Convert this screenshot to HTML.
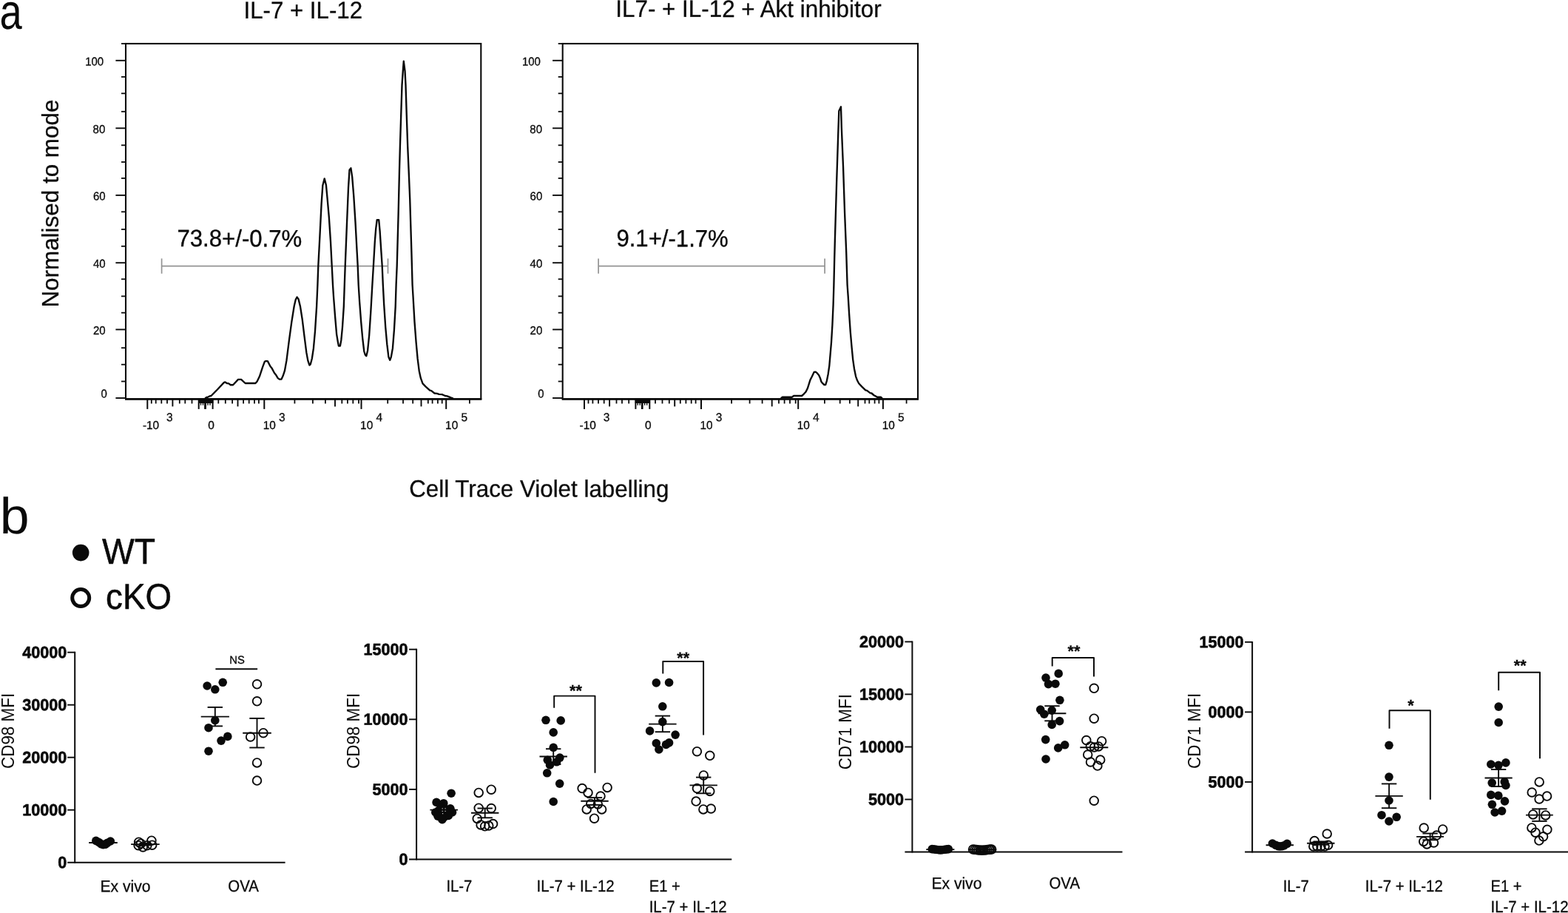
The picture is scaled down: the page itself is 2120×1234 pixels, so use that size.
<!DOCTYPE html>
<html lang="en"><head><meta charset="utf-8"><title>Figure</title>
<style>html,body{margin:0;padding:0;background:#fff}body{width:2120px;height:1234px;overflow:hidden}svg{display:block;filter:blur(0.45px)}text{font-family:'Liberation Sans', sans-serif}</style>
</head><body>
<svg width="2120" height="1234" viewBox="0 0 2120 1234" role="img" aria-label="Figure: Cell Trace Violet histograms and CD98/CD71 MFI dot plots">
<rect width="2120" height="1234" fill="#fff"/>
<g fill="#0a0a0a">
<text transform="translate(-0.40 38.80) rotate(0.03)" font-size="67.5" textLength="30.2" lengthAdjust="spacingAndGlyphs">a</text>
<text transform="translate(-0.20 721.00) rotate(0.03)" font-size="68.5" textLength="39.8" lengthAdjust="spacingAndGlyphs">b</text>
<text transform="translate(79.00 415.60) rotate(-90) scale(1 1.04)" font-size="31" textLength="281.0" lengthAdjust="spacingAndGlyphs" stroke="#0a0a0a" stroke-width="0.3">Normalised to mode</text>
<g class="hist">
<rect x="170.0" y="59.0" width="480.3" height="480.2" fill="none" stroke="#0a0a0a" stroke-width="2.1"/>
<line x1="164.0" y1="59.0" x2="170.0" y2="59.0" stroke-width="1.8" stroke="#0a0a0a"/>
<line x1="169.0" y1="539.5" x2="651.3" y2="539.5" stroke-width="2.3" stroke="#0a0a0a"/>
<line x1="156.4" y1="81.8" x2="170.0" y2="81.8" stroke-width="1.9" stroke="#0a0a0a"/>
<line x1="164.0" y1="103.9" x2="170.0" y2="103.9" stroke-width="1.8" stroke="#0a0a0a"/>
<line x1="164.0" y1="126.3" x2="170.0" y2="126.3" stroke-width="1.8" stroke="#0a0a0a"/>
<line x1="164.0" y1="150.8" x2="170.0" y2="150.8" stroke-width="1.8" stroke="#0a0a0a"/>
<line x1="156.4" y1="173.3" x2="170.0" y2="173.3" stroke-width="1.9" stroke="#0a0a0a"/>
<line x1="164.0" y1="196.3" x2="170.0" y2="196.3" stroke-width="1.8" stroke="#0a0a0a"/>
<line x1="164.0" y1="219.0" x2="170.0" y2="219.0" stroke-width="1.8" stroke="#0a0a0a"/>
<line x1="164.0" y1="240.9" x2="170.0" y2="240.9" stroke-width="1.8" stroke="#0a0a0a"/>
<line x1="156.4" y1="263.9" x2="170.0" y2="263.9" stroke-width="1.9" stroke="#0a0a0a"/>
<line x1="164.0" y1="286.3" x2="170.0" y2="286.3" stroke-width="1.8" stroke="#0a0a0a"/>
<line x1="164.0" y1="310.0" x2="170.0" y2="310.0" stroke-width="1.8" stroke="#0a0a0a"/>
<line x1="164.0" y1="332.8" x2="170.0" y2="332.8" stroke-width="1.8" stroke="#0a0a0a"/>
<line x1="156.4" y1="355.2" x2="170.0" y2="355.2" stroke-width="1.9" stroke="#0a0a0a"/>
<line x1="164.0" y1="377.3" x2="170.0" y2="377.3" stroke-width="1.8" stroke="#0a0a0a"/>
<line x1="164.0" y1="400.4" x2="170.0" y2="400.4" stroke-width="1.8" stroke="#0a0a0a"/>
<line x1="164.0" y1="422.7" x2="170.0" y2="422.7" stroke-width="1.8" stroke="#0a0a0a"/>
<line x1="156.4" y1="445.4" x2="170.0" y2="445.4" stroke-width="1.9" stroke="#0a0a0a"/>
<line x1="164.0" y1="470.2" x2="170.0" y2="470.2" stroke-width="1.8" stroke="#0a0a0a"/>
<line x1="164.0" y1="492.7" x2="170.0" y2="492.7" stroke-width="1.8" stroke="#0a0a0a"/>
<line x1="164.0" y1="515.5" x2="170.0" y2="515.5" stroke-width="1.8" stroke="#0a0a0a"/>
<line x1="156.4" y1="538.0" x2="170.0" y2="538.0" stroke-width="1.9" stroke="#0a0a0a"/>
<text transform="translate(140.20 88.40) rotate(0.03) scale(1 1.03)" font-size="15.3" text-anchor="end" textLength="25.0" lengthAdjust="spacingAndGlyphs" stroke="#0a0a0a" stroke-width="0.3">100</text>
<text transform="translate(142.30 179.90) rotate(0.03) scale(1 1.03)" font-size="15.3" text-anchor="end" textLength="16.7" lengthAdjust="spacingAndGlyphs" stroke="#0a0a0a" stroke-width="0.3">80</text>
<text transform="translate(142.60 270.50) rotate(0.03) scale(1 1.03)" font-size="15.3" text-anchor="end" textLength="16.7" lengthAdjust="spacingAndGlyphs" stroke="#0a0a0a" stroke-width="0.3">60</text>
<text transform="translate(142.60 361.80) rotate(0.03) scale(1 1.03)" font-size="15.3" text-anchor="end" textLength="16.7" lengthAdjust="spacingAndGlyphs" stroke="#0a0a0a" stroke-width="0.3">40</text>
<text transform="translate(142.60 452.00) rotate(0.03) scale(1 1.03)" font-size="15.3" text-anchor="end" textLength="16.7" lengthAdjust="spacingAndGlyphs" stroke="#0a0a0a" stroke-width="0.3">20</text>
<text transform="translate(144.90 537.60) rotate(0.03) scale(1 1.03)" font-size="15.3" text-anchor="end" textLength="8.3" lengthAdjust="spacingAndGlyphs" stroke="#0a0a0a" stroke-width="0.3">0</text>
<line x1="199.3" y1="539.2" x2="199.3" y2="552.9" stroke-width="2.0" stroke="#0a0a0a"/>
<line x1="268.7" y1="539.2" x2="268.7" y2="552.9" stroke-width="2.0" stroke="#0a0a0a"/>
<line x1="277.5" y1="539.2" x2="277.5" y2="552.9" stroke-width="2.0" stroke="#0a0a0a"/>
<line x1="287.6" y1="539.2" x2="287.6" y2="552.9" stroke-width="2.0" stroke="#0a0a0a"/>
<line x1="357.3" y1="539.2" x2="357.3" y2="552.9" stroke-width="2.0" stroke="#0a0a0a"/>
<line x1="488.5" y1="539.2" x2="488.5" y2="552.9" stroke-width="2.0" stroke="#0a0a0a"/>
<line x1="603.2" y1="539.2" x2="603.2" y2="552.9" stroke-width="2.0" stroke="#0a0a0a"/>
<line x1="233.4" y1="539.2" x2="233.4" y2="549.4" stroke-width="1.9" stroke="#0a0a0a"/>
<line x1="321.5" y1="539.2" x2="321.5" y2="549.4" stroke-width="1.9" stroke="#0a0a0a"/>
<line x1="453.0" y1="539.2" x2="453.0" y2="549.4" stroke-width="1.9" stroke="#0a0a0a"/>
<line x1="569.5" y1="539.2" x2="569.5" y2="549.4" stroke-width="1.9" stroke="#0a0a0a"/>
<line x1="204.8" y1="539.2" x2="204.8" y2="545.5" stroke-width="1.8" stroke="#0a0a0a"/>
<line x1="210.7" y1="539.2" x2="210.7" y2="545.5" stroke-width="1.8" stroke="#0a0a0a"/>
<line x1="218.3" y1="539.2" x2="218.3" y2="545.5" stroke-width="1.8" stroke="#0a0a0a"/>
<line x1="226.0" y1="539.2" x2="226.0" y2="545.5" stroke-width="1.8" stroke="#0a0a0a"/>
<line x1="242.8" y1="539.2" x2="242.8" y2="545.5" stroke-width="1.8" stroke="#0a0a0a"/>
<line x1="250.3" y1="539.2" x2="250.3" y2="545.5" stroke-width="1.8" stroke="#0a0a0a"/>
<line x1="259.5" y1="539.2" x2="259.5" y2="545.5" stroke-width="1.8" stroke="#0a0a0a"/>
<line x1="295.3" y1="539.2" x2="295.3" y2="545.5" stroke-width="1.8" stroke="#0a0a0a"/>
<line x1="304.8" y1="539.2" x2="304.8" y2="545.5" stroke-width="1.8" stroke="#0a0a0a"/>
<line x1="314.1" y1="539.2" x2="314.1" y2="545.5" stroke-width="1.8" stroke="#0a0a0a"/>
<line x1="329.1" y1="539.2" x2="329.1" y2="545.5" stroke-width="1.8" stroke="#0a0a0a"/>
<line x1="336.7" y1="539.2" x2="336.7" y2="545.5" stroke-width="1.8" stroke="#0a0a0a"/>
<line x1="344.0" y1="539.2" x2="344.0" y2="545.5" stroke-width="1.8" stroke="#0a0a0a"/>
<line x1="349.9" y1="539.2" x2="349.9" y2="545.5" stroke-width="1.8" stroke="#0a0a0a"/>
<line x1="398.4" y1="539.2" x2="398.4" y2="545.5" stroke-width="1.8" stroke="#0a0a0a"/>
<line x1="422.9" y1="539.2" x2="422.9" y2="545.5" stroke-width="1.8" stroke="#0a0a0a"/>
<line x1="439.9" y1="539.2" x2="439.9" y2="545.5" stroke-width="1.8" stroke="#0a0a0a"/>
<line x1="462.3" y1="539.2" x2="462.3" y2="545.5" stroke-width="1.8" stroke="#0a0a0a"/>
<line x1="469.9" y1="539.2" x2="469.9" y2="545.5" stroke-width="1.8" stroke="#0a0a0a"/>
<line x1="477.3" y1="539.2" x2="477.3" y2="545.5" stroke-width="1.8" stroke="#0a0a0a"/>
<line x1="485.0" y1="539.2" x2="485.0" y2="545.5" stroke-width="1.8" stroke="#0a0a0a"/>
<line x1="524.2" y1="539.2" x2="524.2" y2="545.5" stroke-width="1.8" stroke="#0a0a0a"/>
<line x1="545.0" y1="539.2" x2="545.0" y2="545.5" stroke-width="1.8" stroke="#0a0a0a"/>
<line x1="558.2" y1="539.2" x2="558.2" y2="545.5" stroke-width="1.8" stroke="#0a0a0a"/>
<line x1="578.8" y1="539.2" x2="578.8" y2="545.5" stroke-width="1.8" stroke="#0a0a0a"/>
<line x1="584.6" y1="539.2" x2="584.6" y2="545.5" stroke-width="1.8" stroke="#0a0a0a"/>
<line x1="591.9" y1="539.2" x2="591.9" y2="545.5" stroke-width="1.8" stroke="#0a0a0a"/>
<line x1="597.7" y1="539.2" x2="597.7" y2="545.5" stroke-width="1.8" stroke="#0a0a0a"/>
<line x1="634.9" y1="539.2" x2="634.9" y2="545.5" stroke-width="1.8" stroke="#0a0a0a"/>
<rect x="268.0" y="539.2" width="20.4" height="5.8" fill="#0a0a0a"/>
<line x1="271.5" y1="539.2" x2="271.5" y2="547.7" stroke-width="1.4" stroke="#0a0a0a"/>
<line x1="274.5" y1="539.2" x2="274.5" y2="547.7" stroke-width="1.4" stroke="#0a0a0a"/>
<line x1="281.0" y1="539.2" x2="281.0" y2="547.7" stroke-width="1.4" stroke="#0a0a0a"/>
<line x1="284.0" y1="539.2" x2="284.0" y2="547.7" stroke-width="1.4" stroke="#0a0a0a"/>
<line x1="277.5" y1="539.2" x2="277.5" y2="552.9" stroke-width="2.6" stroke="#0a0a0a"/>
<text transform="translate(192.90 580.10) rotate(0.03) scale(1 1.03)" font-size="15.3" textLength="22.3" lengthAdjust="spacingAndGlyphs" stroke="#0a0a0a" stroke-width="0.3">-10</text>
<text transform="translate(225.00 569.20) rotate(0.03) scale(1 1.03)" font-size="15.3" textLength="8.6" lengthAdjust="spacingAndGlyphs" stroke="#0a0a0a" stroke-width="0.3">3</text>
<text transform="translate(281.20 580.10) rotate(0.03) scale(1 1.03)" font-size="15.3" textLength="8.6" lengthAdjust="spacingAndGlyphs" stroke="#0a0a0a" stroke-width="0.3">0</text>
<text transform="translate(355.80 580.10) rotate(0.03) scale(1 1.03)" font-size="15.3" textLength="17.1" lengthAdjust="spacingAndGlyphs" stroke="#0a0a0a" stroke-width="0.3">10</text>
<text transform="translate(377.10 569.20) rotate(0.03) scale(1 1.03)" font-size="15.3" textLength="8.6" lengthAdjust="spacingAndGlyphs" stroke="#0a0a0a" stroke-width="0.3">3</text>
<text transform="translate(487.10 580.10) rotate(0.03) scale(1 1.03)" font-size="15.3" textLength="17.1" lengthAdjust="spacingAndGlyphs" stroke="#0a0a0a" stroke-width="0.3">10</text>
<text transform="translate(508.40 569.20) rotate(0.03) scale(1 1.03)" font-size="15.3" textLength="8.6" lengthAdjust="spacingAndGlyphs" stroke="#0a0a0a" stroke-width="0.3">4</text>
<text transform="translate(602.10 580.10) rotate(0.03) scale(1 1.03)" font-size="15.3" textLength="17.1" lengthAdjust="spacingAndGlyphs" stroke="#0a0a0a" stroke-width="0.3">10</text>
<text transform="translate(623.40 569.20) rotate(0.03) scale(1 1.03)" font-size="15.3" textLength="8.6" lengthAdjust="spacingAndGlyphs" stroke="#0a0a0a" stroke-width="0.3">5</text>
<line x1="218.6" y1="359.6" x2="524.5" y2="359.6" stroke-width="1.7" stroke="#939393"/>
<line x1="218.6" y1="349.4" x2="218.6" y2="369.8" stroke-width="1.7" stroke="#939393"/>
<line x1="524.5" y1="349.4" x2="524.5" y2="369.8" stroke-width="1.7" stroke="#939393"/>
<path d="M277.2,538.4 L279.3,537.0 L281.3,536.6 L283.4,535.4 L285.5,535.0 L294.4,526.0 L302.7,517.1 L304.4,516.4 L306.8,518.0 L309.3,518.4 L311.7,520.2 L315.1,520.2 L322.0,512.9 L326.1,512.9 L331.6,518.0 L345.4,518.0 L347.5,515.7 L350.9,508.8 L355.0,496.4 L357.8,488.8 L359.4,487.9 L361.9,488.1 L365.4,495.0 L367.4,497.4 L370.9,504.0 L372.9,506.4 L375.7,511.1 L377.8,512.6 L380.5,512.6 L382.6,508.1 L384.9,501.2 L387.4,487.4 L390.9,459.9 L394.3,435.1 L397.7,413.7 L399.8,404.8 L401.6,401.6 L403.5,404.1 L406.0,414.4 L408.8,432.3 L411.5,454.4 L414.3,476.4 L416.3,487.4 L418.4,493.6 L419.8,492.3 L421.8,484.7 L423.9,470.9 L426.0,447.5 L428.1,414.4 L429.4,385.0 L430.3,359.5 L432.4,319.4 L434.6,275.6 L436.3,250.8 L438.7,241.4 L440.9,250.1 L442.6,268.3 L444.8,293.1 L447.0,326.7 L448.7,359.5 L450.0,385.0 L451.0,400.7 L453.1,428.2 L455.1,451.6 L456.9,462.6 L457.9,467.5 L459.9,467.5 L461.3,459.9 L463.0,442.0 L464.8,414.4 L465.8,385.0 L466.7,359.5 L468.9,304.8 L471.0,253.8 L472.5,229.7 L474.4,227.2 L476.2,239.2 L478.3,265.4 L480.5,300.4 L482.7,341.3 L483.7,359.5 L484.7,385.0 L486.1,407.5 L488.2,435.1 L490.2,457.1 L492.3,475.0 L493.7,479.4 L495.3,481.2 L497.1,473.7 L499.2,453.0 L501.3,421.3 L503.2,388.0 L504.9,359.5 L506.8,326.7 L508.2,309.2 L509.7,297.2 L512.2,297.2 L513.6,312.1 L515.5,341.3 L516.7,359.5 L517.8,385.0 L519.2,411.7 L521.2,442.0 L523.3,465.4 L525.4,482.6 L527.2,486.7 L528.8,482.6 L530.9,470.9 L532.9,446.1 L534.7,414.4 L535.6,385.0 L536.7,359.5 L538.6,290.0 L540.0,230.0 L540.9,197.7 L542.2,156.4 L543.5,115.1 L544.8,95.8 L545.8,82.7 L547.5,95.8 L548.5,115.1 L549.8,156.4 L551.2,197.7 L552.6,230.0 L554.2,268.3 L556.4,341.3 L557.6,385.0 L558.6,402.0 L560.5,435.1 L562.6,462.6 L564.6,484.7 L566.7,501.2 L568.8,510.9 L571.5,518.4 L575.6,522.6 L581.2,527.7 L583.2,528.1 L587.4,531.5 L590.8,531.8 L593.6,532.9 L597.7,533.2 L601.8,535.0 L604.6,535.4 L610.1,537.7 L612.8,538.7" fill="none" stroke-width="2.35" stroke-linejoin="round" stroke="#0a0a0a"/>
<text transform="translate(239.40 333.10) rotate(0.03) scale(1 1.04)" font-size="31" textLength="168.9" lengthAdjust="spacingAndGlyphs" stroke="#0a0a0a" stroke-width="0.35">73.8+/-0.7%</text>
<text transform="translate(329.50 24.80) rotate(0.03) scale(1 1.04)" font-size="31" textLength="160.5" lengthAdjust="spacingAndGlyphs" stroke="#0a0a0a" stroke-width="0.3">IL-7 + IL-12</text>
</g>
<g class="hist">
<rect x="760.7" y="59.0" width="480.3" height="480.2" fill="none" stroke="#0a0a0a" stroke-width="2.1"/>
<line x1="754.7" y1="59.0" x2="760.7" y2="59.0" stroke-width="1.8" stroke="#0a0a0a"/>
<line x1="759.7" y1="539.5" x2="1242.0" y2="539.5" stroke-width="2.3" stroke="#0a0a0a"/>
<line x1="747.1" y1="81.8" x2="760.7" y2="81.8" stroke-width="1.9" stroke="#0a0a0a"/>
<line x1="754.7" y1="103.9" x2="760.7" y2="103.9" stroke-width="1.8" stroke="#0a0a0a"/>
<line x1="754.7" y1="126.3" x2="760.7" y2="126.3" stroke-width="1.8" stroke="#0a0a0a"/>
<line x1="754.7" y1="150.8" x2="760.7" y2="150.8" stroke-width="1.8" stroke="#0a0a0a"/>
<line x1="747.1" y1="173.3" x2="760.7" y2="173.3" stroke-width="1.9" stroke="#0a0a0a"/>
<line x1="754.7" y1="196.3" x2="760.7" y2="196.3" stroke-width="1.8" stroke="#0a0a0a"/>
<line x1="754.7" y1="219.0" x2="760.7" y2="219.0" stroke-width="1.8" stroke="#0a0a0a"/>
<line x1="754.7" y1="240.9" x2="760.7" y2="240.9" stroke-width="1.8" stroke="#0a0a0a"/>
<line x1="747.1" y1="263.9" x2="760.7" y2="263.9" stroke-width="1.9" stroke="#0a0a0a"/>
<line x1="754.7" y1="286.3" x2="760.7" y2="286.3" stroke-width="1.8" stroke="#0a0a0a"/>
<line x1="754.7" y1="310.0" x2="760.7" y2="310.0" stroke-width="1.8" stroke="#0a0a0a"/>
<line x1="754.7" y1="332.8" x2="760.7" y2="332.8" stroke-width="1.8" stroke="#0a0a0a"/>
<line x1="747.1" y1="355.2" x2="760.7" y2="355.2" stroke-width="1.9" stroke="#0a0a0a"/>
<line x1="754.7" y1="377.3" x2="760.7" y2="377.3" stroke-width="1.8" stroke="#0a0a0a"/>
<line x1="754.7" y1="400.4" x2="760.7" y2="400.4" stroke-width="1.8" stroke="#0a0a0a"/>
<line x1="754.7" y1="422.7" x2="760.7" y2="422.7" stroke-width="1.8" stroke="#0a0a0a"/>
<line x1="747.1" y1="445.4" x2="760.7" y2="445.4" stroke-width="1.9" stroke="#0a0a0a"/>
<line x1="754.7" y1="470.2" x2="760.7" y2="470.2" stroke-width="1.8" stroke="#0a0a0a"/>
<line x1="754.7" y1="492.7" x2="760.7" y2="492.7" stroke-width="1.8" stroke="#0a0a0a"/>
<line x1="754.7" y1="515.5" x2="760.7" y2="515.5" stroke-width="1.8" stroke="#0a0a0a"/>
<line x1="747.1" y1="538.0" x2="760.7" y2="538.0" stroke-width="1.9" stroke="#0a0a0a"/>
<text transform="translate(730.90 88.40) rotate(0.03) scale(1 1.03)" font-size="15.3" text-anchor="end" textLength="25.0" lengthAdjust="spacingAndGlyphs" stroke="#0a0a0a" stroke-width="0.3">100</text>
<text transform="translate(733.00 179.90) rotate(0.03) scale(1 1.03)" font-size="15.3" text-anchor="end" textLength="16.7" lengthAdjust="spacingAndGlyphs" stroke="#0a0a0a" stroke-width="0.3">80</text>
<text transform="translate(733.30 270.50) rotate(0.03) scale(1 1.03)" font-size="15.3" text-anchor="end" textLength="16.7" lengthAdjust="spacingAndGlyphs" stroke="#0a0a0a" stroke-width="0.3">60</text>
<text transform="translate(733.30 361.80) rotate(0.03) scale(1 1.03)" font-size="15.3" text-anchor="end" textLength="16.7" lengthAdjust="spacingAndGlyphs" stroke="#0a0a0a" stroke-width="0.3">40</text>
<text transform="translate(733.30 452.00) rotate(0.03) scale(1 1.03)" font-size="15.3" text-anchor="end" textLength="16.7" lengthAdjust="spacingAndGlyphs" stroke="#0a0a0a" stroke-width="0.3">20</text>
<text transform="translate(735.60 537.60) rotate(0.03) scale(1 1.03)" font-size="15.3" text-anchor="end" textLength="8.3" lengthAdjust="spacingAndGlyphs" stroke="#0a0a0a" stroke-width="0.3">0</text>
<line x1="790.0" y1="539.2" x2="790.0" y2="552.9" stroke-width="2.0" stroke="#0a0a0a"/>
<line x1="859.4" y1="539.2" x2="859.4" y2="552.9" stroke-width="2.0" stroke="#0a0a0a"/>
<line x1="868.2" y1="539.2" x2="868.2" y2="552.9" stroke-width="2.0" stroke="#0a0a0a"/>
<line x1="878.3" y1="539.2" x2="878.3" y2="552.9" stroke-width="2.0" stroke="#0a0a0a"/>
<line x1="948.0" y1="539.2" x2="948.0" y2="552.9" stroke-width="2.0" stroke="#0a0a0a"/>
<line x1="1079.2" y1="539.2" x2="1079.2" y2="552.9" stroke-width="2.0" stroke="#0a0a0a"/>
<line x1="1193.9" y1="539.2" x2="1193.9" y2="552.9" stroke-width="2.0" stroke="#0a0a0a"/>
<line x1="824.1" y1="539.2" x2="824.1" y2="549.4" stroke-width="1.9" stroke="#0a0a0a"/>
<line x1="912.2" y1="539.2" x2="912.2" y2="549.4" stroke-width="1.9" stroke="#0a0a0a"/>
<line x1="1043.7" y1="539.2" x2="1043.7" y2="549.4" stroke-width="1.9" stroke="#0a0a0a"/>
<line x1="1160.2" y1="539.2" x2="1160.2" y2="549.4" stroke-width="1.9" stroke="#0a0a0a"/>
<line x1="795.5" y1="539.2" x2="795.5" y2="545.5" stroke-width="1.8" stroke="#0a0a0a"/>
<line x1="801.4" y1="539.2" x2="801.4" y2="545.5" stroke-width="1.8" stroke="#0a0a0a"/>
<line x1="809.0" y1="539.2" x2="809.0" y2="545.5" stroke-width="1.8" stroke="#0a0a0a"/>
<line x1="816.7" y1="539.2" x2="816.7" y2="545.5" stroke-width="1.8" stroke="#0a0a0a"/>
<line x1="833.5" y1="539.2" x2="833.5" y2="545.5" stroke-width="1.8" stroke="#0a0a0a"/>
<line x1="841.0" y1="539.2" x2="841.0" y2="545.5" stroke-width="1.8" stroke="#0a0a0a"/>
<line x1="850.2" y1="539.2" x2="850.2" y2="545.5" stroke-width="1.8" stroke="#0a0a0a"/>
<line x1="886.0" y1="539.2" x2="886.0" y2="545.5" stroke-width="1.8" stroke="#0a0a0a"/>
<line x1="895.5" y1="539.2" x2="895.5" y2="545.5" stroke-width="1.8" stroke="#0a0a0a"/>
<line x1="904.8" y1="539.2" x2="904.8" y2="545.5" stroke-width="1.8" stroke="#0a0a0a"/>
<line x1="919.8" y1="539.2" x2="919.8" y2="545.5" stroke-width="1.8" stroke="#0a0a0a"/>
<line x1="927.4" y1="539.2" x2="927.4" y2="545.5" stroke-width="1.8" stroke="#0a0a0a"/>
<line x1="934.7" y1="539.2" x2="934.7" y2="545.5" stroke-width="1.8" stroke="#0a0a0a"/>
<line x1="940.6" y1="539.2" x2="940.6" y2="545.5" stroke-width="1.8" stroke="#0a0a0a"/>
<line x1="989.1" y1="539.2" x2="989.1" y2="545.5" stroke-width="1.8" stroke="#0a0a0a"/>
<line x1="1013.6" y1="539.2" x2="1013.6" y2="545.5" stroke-width="1.8" stroke="#0a0a0a"/>
<line x1="1030.6" y1="539.2" x2="1030.6" y2="545.5" stroke-width="1.8" stroke="#0a0a0a"/>
<line x1="1053.0" y1="539.2" x2="1053.0" y2="545.5" stroke-width="1.8" stroke="#0a0a0a"/>
<line x1="1060.6" y1="539.2" x2="1060.6" y2="545.5" stroke-width="1.8" stroke="#0a0a0a"/>
<line x1="1068.0" y1="539.2" x2="1068.0" y2="545.5" stroke-width="1.8" stroke="#0a0a0a"/>
<line x1="1075.7" y1="539.2" x2="1075.7" y2="545.5" stroke-width="1.8" stroke="#0a0a0a"/>
<line x1="1114.9" y1="539.2" x2="1114.9" y2="545.5" stroke-width="1.8" stroke="#0a0a0a"/>
<line x1="1135.7" y1="539.2" x2="1135.7" y2="545.5" stroke-width="1.8" stroke="#0a0a0a"/>
<line x1="1148.9" y1="539.2" x2="1148.9" y2="545.5" stroke-width="1.8" stroke="#0a0a0a"/>
<line x1="1169.5" y1="539.2" x2="1169.5" y2="545.5" stroke-width="1.8" stroke="#0a0a0a"/>
<line x1="1175.3" y1="539.2" x2="1175.3" y2="545.5" stroke-width="1.8" stroke="#0a0a0a"/>
<line x1="1182.6" y1="539.2" x2="1182.6" y2="545.5" stroke-width="1.8" stroke="#0a0a0a"/>
<line x1="1188.4" y1="539.2" x2="1188.4" y2="545.5" stroke-width="1.8" stroke="#0a0a0a"/>
<line x1="1225.6" y1="539.2" x2="1225.6" y2="545.5" stroke-width="1.8" stroke="#0a0a0a"/>
<rect x="858.7" y="539.2" width="20.4" height="5.8" fill="#0a0a0a"/>
<line x1="862.2" y1="539.2" x2="862.2" y2="547.7" stroke-width="1.4" stroke="#0a0a0a"/>
<line x1="865.2" y1="539.2" x2="865.2" y2="547.7" stroke-width="1.4" stroke="#0a0a0a"/>
<line x1="871.7" y1="539.2" x2="871.7" y2="547.7" stroke-width="1.4" stroke="#0a0a0a"/>
<line x1="874.7" y1="539.2" x2="874.7" y2="547.7" stroke-width="1.4" stroke="#0a0a0a"/>
<line x1="868.2" y1="539.2" x2="868.2" y2="552.9" stroke-width="2.6" stroke="#0a0a0a"/>
<text transform="translate(783.60 580.10) rotate(0.03) scale(1 1.03)" font-size="15.3" textLength="22.3" lengthAdjust="spacingAndGlyphs" stroke="#0a0a0a" stroke-width="0.3">-10</text>
<text transform="translate(815.70 569.20) rotate(0.03) scale(1 1.03)" font-size="15.3" textLength="8.6" lengthAdjust="spacingAndGlyphs" stroke="#0a0a0a" stroke-width="0.3">3</text>
<text transform="translate(871.90 580.10) rotate(0.03) scale(1 1.03)" font-size="15.3" textLength="8.6" lengthAdjust="spacingAndGlyphs" stroke="#0a0a0a" stroke-width="0.3">0</text>
<text transform="translate(946.50 580.10) rotate(0.03) scale(1 1.03)" font-size="15.3" textLength="17.1" lengthAdjust="spacingAndGlyphs" stroke="#0a0a0a" stroke-width="0.3">10</text>
<text transform="translate(967.80 569.20) rotate(0.03) scale(1 1.03)" font-size="15.3" textLength="8.6" lengthAdjust="spacingAndGlyphs" stroke="#0a0a0a" stroke-width="0.3">3</text>
<text transform="translate(1077.80 580.10) rotate(0.03) scale(1 1.03)" font-size="15.3" textLength="17.1" lengthAdjust="spacingAndGlyphs" stroke="#0a0a0a" stroke-width="0.3">10</text>
<text transform="translate(1099.10 569.20) rotate(0.03) scale(1 1.03)" font-size="15.3" textLength="8.6" lengthAdjust="spacingAndGlyphs" stroke="#0a0a0a" stroke-width="0.3">4</text>
<text transform="translate(1192.80 580.10) rotate(0.03) scale(1 1.03)" font-size="15.3" textLength="17.1" lengthAdjust="spacingAndGlyphs" stroke="#0a0a0a" stroke-width="0.3">10</text>
<text transform="translate(1214.10 569.20) rotate(0.03) scale(1 1.03)" font-size="15.3" textLength="8.6" lengthAdjust="spacingAndGlyphs" stroke="#0a0a0a" stroke-width="0.3">5</text>
<line x1="809.1" y1="359.6" x2="1115.1" y2="359.6" stroke-width="1.7" stroke="#939393"/>
<line x1="809.1" y1="349.4" x2="809.1" y2="369.8" stroke-width="1.7" stroke="#939393"/>
<line x1="1115.1" y1="349.4" x2="1115.1" y2="369.8" stroke-width="1.7" stroke="#939393"/>
<path d="M1055.8,538.4 L1057.9,536.7 L1071.0,536.7 L1073.1,535.0 L1084.1,535.0 L1086.8,532.6 L1089.6,529.4 L1091.7,525.3 L1093.7,519.1 L1095.4,513.6 L1097.9,508.8 L1100.6,503.0 L1102.7,502.6 L1104.7,504.2 L1107.1,507.0 L1108.9,510.9 L1110.5,516.1 L1112.3,518.2 L1114.4,520.2 L1116.2,520.1 L1117.8,515.0 L1119.6,506.0 L1121.3,494.3 L1122.6,479.2 L1124.0,462.6 L1125.4,439.2 L1126.6,411.7 L1127.4,385.0 L1128.2,350.0 L1129.0,319.6 L1131.1,248.0 L1133.2,182.7 L1134.3,150.0 L1137.0,144.3 L1137.8,172.1 L1140.0,224.8 L1142.1,288.0 L1144.2,340.7 L1145.6,385.0 L1146.7,400.7 L1148.1,424.1 L1149.8,448.9 L1151.6,469.5 L1153.2,486.1 L1155.0,498.5 L1157.1,508.8 L1159.1,514.3 L1161.2,518.2 L1165.3,522.6 L1170.2,527.4 L1172.2,527.8 L1176.4,531.2 L1178.4,531.5 L1181.9,534.5 L1183.9,535.4 L1186.0,536.7 L1190.8,536.7 L1192.9,538.4" fill="none" stroke-width="2.35" stroke-linejoin="round" stroke="#0a0a0a"/>
<text transform="translate(833.40 333.10) rotate(0.03) scale(1 1.04)" font-size="31" textLength="151.4" lengthAdjust="spacingAndGlyphs" stroke="#0a0a0a" stroke-width="0.35">9.1+/-1.7%</text>
<text transform="translate(832.30 22.80) rotate(0.03) scale(1 1.04)" font-size="31" textLength="359.3" lengthAdjust="spacingAndGlyphs" stroke="#0a0a0a" stroke-width="0.3">IL7- + IL-12 + Akt inhibitor</text>
</g>
<text transform="translate(553.20 671.50) rotate(0.03) scale(1 1.04)" font-size="31" textLength="351.2" lengthAdjust="spacingAndGlyphs" stroke="#0a0a0a" stroke-width="0.3">Cell Trace Violet labelling</text>
<circle cx="109.2" cy="747.1" r="11.3" fill="#0a0a0a"/>
<circle cx="109.2" cy="808.1" r="11.5" fill="none" stroke="#0a0a0a" stroke-width="5"/>
<text transform="translate(138.00 761.90) rotate(0.03) scale(1 1.045)" font-size="46.5" textLength="72.0" lengthAdjust="spacingAndGlyphs" stroke="#0a0a0a" stroke-width="0.5">WT</text>
<text transform="translate(143.00 822.90) rotate(0.03) scale(1 1.045)" font-size="46.5" textLength="89.0" lengthAdjust="spacingAndGlyphs" stroke="#0a0a0a" stroke-width="0.5">cKO</text>
<g class="p1">
<line x1="101.2" y1="880.8" x2="101.2" y2="1166.6" stroke-width="2.0" stroke="#0a0a0a"/>
<line x1="91.2" y1="1165.7" x2="385.6" y2="1165.7" stroke-width="2.0" stroke="#0a0a0a"/>
<line x1="91.2" y1="881.7" x2="101.2" y2="881.7" stroke-width="1.9" stroke="#0a0a0a"/>
<text transform="translate(90.20 889.25) rotate(0.03) scale(1 1.03)" font-size="21.6" font-weight="bold" text-anchor="end" stroke="#0a0a0a" stroke-width="0.6">40000</text>
<line x1="91.2" y1="952.7" x2="101.2" y2="952.7" stroke-width="1.9" stroke="#0a0a0a"/>
<text transform="translate(90.20 960.25) rotate(0.03) scale(1 1.03)" font-size="21.6" font-weight="bold" text-anchor="end" stroke="#0a0a0a" stroke-width="0.6">30000</text>
<line x1="91.2" y1="1023.7" x2="101.2" y2="1023.7" stroke-width="1.9" stroke="#0a0a0a"/>
<text transform="translate(90.20 1031.25) rotate(0.03) scale(1 1.03)" font-size="21.6" font-weight="bold" text-anchor="end" stroke="#0a0a0a" stroke-width="0.6">20000</text>
<line x1="91.2" y1="1094.7" x2="101.2" y2="1094.7" stroke-width="1.9" stroke="#0a0a0a"/>
<text transform="translate(90.20 1102.25) rotate(0.03) scale(1 1.03)" font-size="21.6" font-weight="bold" text-anchor="end" stroke="#0a0a0a" stroke-width="0.6">10000</text>
<text transform="translate(90.20 1173.25) rotate(0.03) scale(1 1.03)" font-size="21.6" font-weight="bold" text-anchor="end" stroke="#0a0a0a" stroke-width="0.6">0</text>
<text transform="translate(18.50 1039.00) rotate(-90)" font-size="24.8" textLength="102.2" lengthAdjust="spacingAndGlyphs">CD98 MFI</text>
<line x1="120.2" y1="1139.0" x2="158.8" y2="1139.0" stroke-width="1.9" stroke="#0a0a0a"/>
<circle cx="129.8" cy="1136.4" r="5.8" fill="#0a0a0a"/>
<circle cx="133.9" cy="1138.6" r="5.8" fill="#0a0a0a"/>
<circle cx="136.9" cy="1140.8" r="5.8" fill="#0a0a0a"/>
<circle cx="139.5" cy="1141.6" r="5.8" fill="#0a0a0a"/>
<circle cx="142.3" cy="1141.3" r="5.8" fill="#0a0a0a"/>
<circle cx="145.0" cy="1139.3" r="5.8" fill="#0a0a0a"/>
<circle cx="149.3" cy="1137.0" r="5.8" fill="#0a0a0a"/>
<line x1="177.1" y1="1141.1" x2="215.7" y2="1141.1" stroke-width="1.9" stroke="#0a0a0a"/>
<line x1="196.4" y1="1139.8" x2="196.4" y2="1142.4" stroke-width="1.9" stroke="#0a0a0a"/>
<line x1="188.4" y1="1139.8" x2="204.4" y2="1139.8" stroke-width="1.9" stroke="#0a0a0a"/>
<line x1="188.4" y1="1142.4" x2="204.4" y2="1142.4" stroke-width="1.9" stroke="#0a0a0a"/>
<circle cx="187.6" cy="1138.2" r="5.8" fill="none" stroke="#0a0a0a" stroke-width="1.9"/>
<circle cx="204.9" cy="1136.2" r="5.8" fill="none" stroke="#0a0a0a" stroke-width="1.9"/>
<circle cx="187.1" cy="1142.7" r="5.8" fill="none" stroke="#0a0a0a" stroke-width="1.9"/>
<circle cx="193.3" cy="1145.0" r="5.8" fill="none" stroke="#0a0a0a" stroke-width="1.9"/>
<circle cx="198.9" cy="1142.7" r="5.8" fill="none" stroke="#0a0a0a" stroke-width="1.9"/>
<circle cx="205.7" cy="1142.2" r="5.8" fill="none" stroke="#0a0a0a" stroke-width="1.9"/>
<circle cx="190.5" cy="1140.2" r="5.8" fill="none" stroke="#0a0a0a" stroke-width="1.9"/>
<line x1="271.7" y1="968.6" x2="309.9" y2="968.6" stroke-width="1.9" stroke="#0a0a0a"/>
<line x1="290.8" y1="955.9" x2="290.8" y2="981.4" stroke-width="1.9" stroke="#0a0a0a"/>
<line x1="280.6" y1="955.9" x2="301.0" y2="955.9" stroke-width="1.9" stroke="#0a0a0a"/>
<line x1="280.6" y1="981.4" x2="301.0" y2="981.4" stroke-width="1.9" stroke="#0a0a0a"/>
<circle cx="280.1" cy="927.0" r="5.8" fill="#0a0a0a"/>
<circle cx="290.8" cy="931.8" r="5.8" fill="#0a0a0a"/>
<circle cx="301.2" cy="922.3" r="5.8" fill="#0a0a0a"/>
<circle cx="290.8" cy="973.7" r="5.8" fill="#0a0a0a"/>
<circle cx="282.0" cy="983.7" r="5.8" fill="#0a0a0a"/>
<circle cx="307.8" cy="995.4" r="5.8" fill="#0a0a0a"/>
<circle cx="299.0" cy="1001.1" r="5.8" fill="#0a0a0a"/>
<circle cx="282.0" cy="1015.2" r="5.8" fill="#0a0a0a"/>
<line x1="328.2" y1="990.7" x2="366.8" y2="990.7" stroke-width="1.9" stroke="#0a0a0a"/>
<line x1="347.5" y1="970.9" x2="347.5" y2="1010.5" stroke-width="1.9" stroke="#0a0a0a"/>
<line x1="337.3" y1="970.9" x2="357.7" y2="970.9" stroke-width="1.9" stroke="#0a0a0a"/>
<line x1="337.3" y1="1010.5" x2="357.7" y2="1010.5" stroke-width="1.9" stroke="#0a0a0a"/>
<circle cx="347.5" cy="924.8" r="5.8" fill="none" stroke="#0a0a0a" stroke-width="1.9"/>
<circle cx="347.5" cy="947.8" r="5.8" fill="none" stroke="#0a0a0a" stroke-width="1.9"/>
<circle cx="356.0" cy="990.7" r="5.8" fill="none" stroke="#0a0a0a" stroke-width="1.9"/>
<circle cx="338.6" cy="996.0" r="5.8" fill="none" stroke="#0a0a0a" stroke-width="1.9"/>
<circle cx="347.5" cy="1030.9" r="5.8" fill="none" stroke="#0a0a0a" stroke-width="1.9"/>
<circle cx="347.5" cy="1055.1" r="5.8" fill="none" stroke="#0a0a0a" stroke-width="1.9"/>
<line x1="291.4" y1="904.2" x2="348.1" y2="904.2" stroke-width="1.9" stroke="#0a0a0a"/>
<text transform="translate(320.50 896.90) rotate(0.03) scale(1 1.03)" font-size="14.6" text-anchor="middle" textLength="20.5" lengthAdjust="spacingAndGlyphs" stroke="#0a0a0a" stroke-width="0.35">NS</text>
<text transform="translate(135.50 1205.20) rotate(0.03)" font-size="22" textLength="68.0" lengthAdjust="spacingAndGlyphs" stroke="#0a0a0a" stroke-width="0.3">Ex vivo</text>
<text transform="translate(308.30 1205.20) rotate(0.03)" font-size="22" textLength="41.5" lengthAdjust="spacingAndGlyphs" stroke="#0a0a0a" stroke-width="0.3">OVA</text>
</g>
<g class="p2">
<line x1="563.1" y1="876.8" x2="563.1" y2="1162.4" stroke-width="2.0" stroke="#0a0a0a"/>
<line x1="553.1" y1="1161.5" x2="989.3" y2="1161.5" stroke-width="2.0" stroke="#0a0a0a"/>
<line x1="553.1" y1="877.7" x2="563.1" y2="877.7" stroke-width="1.9" stroke="#0a0a0a"/>
<text transform="translate(551.60 885.25) rotate(0.03) scale(1 1.03)" font-size="21.6" font-weight="bold" text-anchor="end" stroke="#0a0a0a" stroke-width="0.6">15000</text>
<line x1="553.1" y1="972.3" x2="563.1" y2="972.3" stroke-width="1.9" stroke="#0a0a0a"/>
<text transform="translate(551.60 979.85) rotate(0.03) scale(1 1.03)" font-size="21.6" font-weight="bold" text-anchor="end" stroke="#0a0a0a" stroke-width="0.6">10000</text>
<line x1="553.1" y1="1066.9" x2="563.1" y2="1066.9" stroke-width="1.9" stroke="#0a0a0a"/>
<text transform="translate(551.60 1074.45) rotate(0.03) scale(1 1.03)" font-size="21.6" font-weight="bold" text-anchor="end" stroke="#0a0a0a" stroke-width="0.6">5000</text>
<text transform="translate(551.60 1169.05) rotate(0.03) scale(1 1.03)" font-size="21.6" font-weight="bold" text-anchor="end" stroke="#0a0a0a" stroke-width="0.6">0</text>
<text transform="translate(486.00 1039.00) rotate(-90)" font-size="24.8" textLength="102.2" lengthAdjust="spacingAndGlyphs">CD98 MFI</text>
<line x1="581.4" y1="1094.6" x2="619.0" y2="1094.6" stroke-width="1.9" stroke="#0a0a0a"/>
<circle cx="610.1" cy="1072.2" r="5.8" fill="#0a0a0a"/>
<circle cx="590.1" cy="1084.4" r="5.8" fill="#0a0a0a"/>
<circle cx="599.8" cy="1085.7" r="5.8" fill="#0a0a0a"/>
<circle cx="608.9" cy="1092.8" r="5.8" fill="#0a0a0a"/>
<circle cx="588.8" cy="1098.0" r="5.8" fill="#0a0a0a"/>
<circle cx="593.3" cy="1095.4" r="5.8" fill="#0a0a0a"/>
<circle cx="597.9" cy="1099.3" r="5.8" fill="#0a0a0a"/>
<circle cx="603.7" cy="1098.0" r="5.8" fill="#0a0a0a"/>
<circle cx="611.5" cy="1098.0" r="5.8" fill="#0a0a0a"/>
<circle cx="592.0" cy="1103.2" r="5.8" fill="#0a0a0a"/>
<circle cx="606.3" cy="1102.5" r="5.8" fill="#0a0a0a"/>
<circle cx="600.5" cy="1104.5" r="5.8" fill="#0a0a0a"/>
<circle cx="597.9" cy="1107.7" r="5.8" fill="#0a0a0a"/>
<circle cx="596.0" cy="1092.3" r="5.8" fill="#0a0a0a"/>
<circle cx="602.5" cy="1093.5" r="5.8" fill="#0a0a0a"/>
<rect x="597.6" y="1092.2" width="1.2" height="1.2" fill="#fff" opacity="0.8"/>
<rect x="601.5" y="1092.2" width="1.2" height="1.2" fill="#fff" opacity="0.8"/>
<rect x="597.6" y="1095.8" width="1.2" height="1.2" fill="#fff" opacity="0.8"/>
<rect x="601.5" y="1095.8" width="1.2" height="1.2" fill="#fff" opacity="0.8"/>
<rect x="598.0" y="1099.0" width="1.2" height="1.2" fill="#fff" opacity="0.8"/>
<line x1="637.0" y1="1098.8" x2="674.4" y2="1098.8" stroke-width="1.9" stroke="#0a0a0a"/>
<line x1="655.7" y1="1092.5" x2="655.7" y2="1105.3" stroke-width="1.9" stroke="#0a0a0a"/>
<line x1="645.5" y1="1092.5" x2="665.9" y2="1092.5" stroke-width="1.9" stroke="#0a0a0a"/>
<line x1="645.5" y1="1105.3" x2="665.9" y2="1105.3" stroke-width="1.9" stroke="#0a0a0a"/>
<circle cx="647.2" cy="1071.4" r="5.8" fill="none" stroke="#0a0a0a" stroke-width="1.9"/>
<circle cx="664.2" cy="1067.2" r="5.8" fill="none" stroke="#0a0a0a" stroke-width="1.9"/>
<circle cx="647.2" cy="1092.2" r="5.8" fill="none" stroke="#0a0a0a" stroke-width="1.9"/>
<circle cx="664.2" cy="1092.5" r="5.8" fill="none" stroke="#0a0a0a" stroke-width="1.9"/>
<circle cx="645.2" cy="1106.4" r="5.8" fill="none" stroke="#0a0a0a" stroke-width="1.9"/>
<circle cx="650.1" cy="1114.9" r="5.8" fill="none" stroke="#0a0a0a" stroke-width="1.9"/>
<circle cx="655.6" cy="1116.8" r="5.8" fill="none" stroke="#0a0a0a" stroke-width="1.9"/>
<circle cx="660.8" cy="1116.1" r="5.8" fill="none" stroke="#0a0a0a" stroke-width="1.9"/>
<circle cx="666.6" cy="1113.6" r="5.8" fill="none" stroke="#0a0a0a" stroke-width="1.9"/>
<line x1="729.5" y1="1022.5" x2="766.9" y2="1022.5" stroke-width="1.9" stroke="#0a0a0a"/>
<line x1="748.2" y1="1012.2" x2="748.2" y2="1033.0" stroke-width="1.9" stroke="#0a0a0a"/>
<line x1="738.0" y1="1012.2" x2="758.4" y2="1012.2" stroke-width="1.9" stroke="#0a0a0a"/>
<line x1="738.0" y1="1033.0" x2="758.4" y2="1033.0" stroke-width="1.9" stroke="#0a0a0a"/>
<circle cx="738.0" cy="973.3" r="5.8" fill="#0a0a0a"/>
<circle cx="758.2" cy="973.9" r="5.8" fill="#0a0a0a"/>
<circle cx="748.2" cy="989.9" r="5.8" fill="#0a0a0a"/>
<circle cx="748.2" cy="1010.3" r="5.8" fill="#0a0a0a"/>
<circle cx="756.9" cy="1024.1" r="5.8" fill="#0a0a0a"/>
<circle cx="740.3" cy="1027.2" r="5.8" fill="#0a0a0a"/>
<circle cx="752.6" cy="1029.8" r="5.8" fill="#0a0a0a"/>
<circle cx="743.5" cy="1033.9" r="5.8" fill="#0a0a0a"/>
<circle cx="739.7" cy="1044.8" r="5.8" fill="#0a0a0a"/>
<circle cx="756.7" cy="1059.1" r="5.8" fill="#0a0a0a"/>
<circle cx="748.2" cy="1083.5" r="5.8" fill="#0a0a0a"/>
<line x1="785.3" y1="1082.7" x2="822.7" y2="1082.7" stroke-width="1.9" stroke="#0a0a0a"/>
<line x1="804.0" y1="1078.1" x2="804.0" y2="1087.9" stroke-width="1.9" stroke="#0a0a0a"/>
<line x1="793.8" y1="1078.1" x2="814.2" y2="1078.1" stroke-width="1.9" stroke="#0a0a0a"/>
<line x1="793.8" y1="1087.9" x2="814.2" y2="1087.9" stroke-width="1.9" stroke="#0a0a0a"/>
<circle cx="787.1" cy="1065.6" r="5.8" fill="none" stroke="#0a0a0a" stroke-width="1.9"/>
<circle cx="821.1" cy="1064.4" r="5.8" fill="none" stroke="#0a0a0a" stroke-width="1.9"/>
<circle cx="795.0" cy="1071.4" r="5.8" fill="none" stroke="#0a0a0a" stroke-width="1.9"/>
<circle cx="812.0" cy="1076.0" r="5.8" fill="none" stroke="#0a0a0a" stroke-width="1.9"/>
<circle cx="798.8" cy="1086.4" r="5.8" fill="none" stroke="#0a0a0a" stroke-width="1.9"/>
<circle cx="808.3" cy="1086.9" r="5.8" fill="none" stroke="#0a0a0a" stroke-width="1.9"/>
<circle cx="793.2" cy="1093.9" r="5.8" fill="none" stroke="#0a0a0a" stroke-width="1.9"/>
<circle cx="813.6" cy="1093.9" r="5.8" fill="none" stroke="#0a0a0a" stroke-width="1.9"/>
<circle cx="803.5" cy="1106.2" r="5.8" fill="none" stroke="#0a0a0a" stroke-width="1.9"/>
<path d="M749.2,956.7 L749.2,940.6 L804.5,940.6 L804.5,1044.8" fill="none" stroke-width="1.95" stroke-linejoin="round" stroke="#0a0a0a"/>
<text transform="translate(778.50 940.85) rotate(0.03)" font-size="21.6" font-weight="bold" text-anchor="middle" stroke="#0a0a0a" stroke-width="0.3">**</text>
<line x1="877.2" y1="978.6" x2="914.6" y2="978.6" stroke-width="1.9" stroke="#0a0a0a"/>
<line x1="895.9" y1="967.6" x2="895.9" y2="989.2" stroke-width="1.9" stroke="#0a0a0a"/>
<line x1="885.7" y1="967.6" x2="906.1" y2="967.6" stroke-width="1.9" stroke="#0a0a0a"/>
<line x1="885.7" y1="989.2" x2="906.1" y2="989.2" stroke-width="1.9" stroke="#0a0a0a"/>
<circle cx="887.3" cy="922.9" r="5.8" fill="#0a0a0a"/>
<circle cx="904.6" cy="922.5" r="5.8" fill="#0a0a0a"/>
<circle cx="895.8" cy="954.8" r="5.8" fill="#0a0a0a"/>
<circle cx="895.8" cy="975.6" r="5.8" fill="#0a0a0a"/>
<circle cx="878.6" cy="987.9" r="5.8" fill="#0a0a0a"/>
<circle cx="913.1" cy="993.1" r="5.8" fill="#0a0a0a"/>
<circle cx="887.3" cy="1004.5" r="5.8" fill="#0a0a0a"/>
<circle cx="904.6" cy="1003.9" r="5.8" fill="#0a0a0a"/>
<circle cx="900.5" cy="1006.4" r="5.8" fill="#0a0a0a"/>
<circle cx="890.9" cy="1013.0" r="5.8" fill="#0a0a0a"/>
<line x1="932.5" y1="1061.4" x2="969.9" y2="1061.4" stroke-width="1.9" stroke="#0a0a0a"/>
<line x1="951.2" y1="1050.6" x2="951.2" y2="1072.3" stroke-width="1.9" stroke="#0a0a0a"/>
<line x1="941.0" y1="1050.6" x2="961.4" y2="1050.6" stroke-width="1.9" stroke="#0a0a0a"/>
<line x1="941.0" y1="1072.3" x2="961.4" y2="1072.3" stroke-width="1.9" stroke="#0a0a0a"/>
<circle cx="942.4" cy="1015.7" r="5.8" fill="none" stroke="#0a0a0a" stroke-width="1.9"/>
<circle cx="959.8" cy="1021.3" r="5.8" fill="none" stroke="#0a0a0a" stroke-width="1.9"/>
<circle cx="951.3" cy="1047.9" r="5.8" fill="none" stroke="#0a0a0a" stroke-width="1.9"/>
<circle cx="942.4" cy="1065.6" r="5.8" fill="none" stroke="#0a0a0a" stroke-width="1.9"/>
<circle cx="959.8" cy="1069.4" r="5.8" fill="none" stroke="#0a0a0a" stroke-width="1.9"/>
<circle cx="941.1" cy="1083.1" r="5.8" fill="none" stroke="#0a0a0a" stroke-width="1.9"/>
<circle cx="950.9" cy="1093.9" r="5.8" fill="none" stroke="#0a0a0a" stroke-width="1.9"/>
<circle cx="961.3" cy="1093.0" r="5.8" fill="none" stroke="#0a0a0a" stroke-width="1.9"/>
<path d="M896.3,910.4 L896.3,894.0 L951.1,894.0 L951.1,993.5" fill="none" stroke-width="1.95" stroke-linejoin="round" stroke="#0a0a0a"/>
<text transform="translate(923.70 896.55) rotate(0.03)" font-size="21.6" font-weight="bold" text-anchor="middle" stroke="#0a0a0a" stroke-width="0.3">**</text>
<text transform="translate(603.40 1205.20) rotate(0.03)" font-size="22" textLength="35.0" lengthAdjust="spacingAndGlyphs" stroke="#0a0a0a" stroke-width="0.3">IL-7</text>
<text transform="translate(725.60 1205.20) rotate(0.03)" font-size="22" textLength="105.0" lengthAdjust="spacingAndGlyphs" stroke="#0a0a0a" stroke-width="0.3">IL-7 + IL-12</text>
<text transform="translate(877.70 1205.20) rotate(0.03)" font-size="22" textLength="42.0" lengthAdjust="spacingAndGlyphs" stroke="#0a0a0a" stroke-width="0.3">E1 +</text>
<text transform="translate(877.70 1233.00) rotate(0.03)" font-size="22" textLength="105.0" lengthAdjust="spacingAndGlyphs" stroke="#0a0a0a" stroke-width="0.3">IL-7 + IL-12</text>
</g>
<g class="p3">
<line x1="1233.4" y1="866.5" x2="1233.4" y2="1152.4" stroke-width="2.0" stroke="#0a0a0a"/>
<line x1="1223.4" y1="1151.5" x2="1517.5" y2="1151.5" stroke-width="2.0" stroke="#0a0a0a"/>
<line x1="1223.4" y1="867.4" x2="1233.4" y2="867.4" stroke-width="1.9" stroke="#0a0a0a"/>
<text transform="translate(1221.90 874.95) rotate(0.03) scale(1 1.03)" font-size="21.6" font-weight="bold" text-anchor="end" stroke="#0a0a0a" stroke-width="0.6">20000</text>
<line x1="1223.4" y1="938.4" x2="1233.4" y2="938.4" stroke-width="1.9" stroke="#0a0a0a"/>
<text transform="translate(1221.90 945.97) rotate(0.03) scale(1 1.03)" font-size="21.6" font-weight="bold" text-anchor="end" stroke="#0a0a0a" stroke-width="0.6">15000</text>
<line x1="1223.4" y1="1009.5" x2="1233.4" y2="1009.5" stroke-width="1.9" stroke="#0a0a0a"/>
<text transform="translate(1221.90 1017.00) rotate(0.03) scale(1 1.03)" font-size="21.6" font-weight="bold" text-anchor="end" stroke="#0a0a0a" stroke-width="0.6">10000</text>
<line x1="1223.4" y1="1080.5" x2="1233.4" y2="1080.5" stroke-width="1.9" stroke="#0a0a0a"/>
<text transform="translate(1221.90 1088.02) rotate(0.03) scale(1 1.03)" font-size="21.6" font-weight="bold" text-anchor="end" stroke="#0a0a0a" stroke-width="0.6">5000</text>
<text transform="translate(1150.60 1040.30) rotate(-90)" font-size="24.8" textLength="102.2" lengthAdjust="spacingAndGlyphs">CD71 MFI</text>
<line x1="1252.2" y1="1148.1" x2="1290.4" y2="1148.1" stroke-width="1.9" stroke="#0a0a0a"/>
<circle cx="1260.2" cy="1147.6" r="5.8" fill="#0a0a0a"/>
<circle cx="1263.0" cy="1147.9" r="5.8" fill="#0a0a0a"/>
<circle cx="1266.0" cy="1148.3" r="5.8" fill="#0a0a0a"/>
<circle cx="1269.0" cy="1148.7" r="5.8" fill="#0a0a0a"/>
<circle cx="1271.5" cy="1148.9" r="5.8" fill="#0a0a0a"/>
<circle cx="1274.0" cy="1148.7" r="5.8" fill="#0a0a0a"/>
<circle cx="1277.0" cy="1148.3" r="5.8" fill="#0a0a0a"/>
<circle cx="1280.0" cy="1147.9" r="5.8" fill="#0a0a0a"/>
<circle cx="1282.3" cy="1147.6" r="5.8" fill="#0a0a0a"/>
<line x1="1308.9" y1="1148.3" x2="1347.1" y2="1148.3" stroke-width="1.9" stroke="#0a0a0a"/>
<circle cx="1315.6" cy="1148.0" r="5.8" fill="none" stroke="#0a0a0a" stroke-width="1.9"/>
<circle cx="1318.0" cy="1148.3" r="5.8" fill="none" stroke="#0a0a0a" stroke-width="1.9"/>
<circle cx="1320.4" cy="1148.6" r="5.8" fill="none" stroke="#0a0a0a" stroke-width="1.9"/>
<circle cx="1322.8" cy="1148.9" r="5.8" fill="none" stroke="#0a0a0a" stroke-width="1.9"/>
<circle cx="1325.2" cy="1149.1" r="5.8" fill="none" stroke="#0a0a0a" stroke-width="1.9"/>
<circle cx="1327.6" cy="1149.2" r="5.8" fill="none" stroke="#0a0a0a" stroke-width="1.9"/>
<circle cx="1330.0" cy="1149.1" r="5.8" fill="none" stroke="#0a0a0a" stroke-width="1.9"/>
<circle cx="1332.4" cy="1148.9" r="5.8" fill="none" stroke="#0a0a0a" stroke-width="1.9"/>
<circle cx="1334.8" cy="1148.6" r="5.8" fill="none" stroke="#0a0a0a" stroke-width="1.9"/>
<circle cx="1337.2" cy="1148.3" r="5.8" fill="none" stroke="#0a0a0a" stroke-width="1.9"/>
<circle cx="1339.0" cy="1148.1" r="5.8" fill="none" stroke="#0a0a0a" stroke-width="1.9"/>
<circle cx="1340.7" cy="1147.9" r="5.8" fill="none" stroke="#0a0a0a" stroke-width="1.9"/>
<line x1="1403.6" y1="964.3" x2="1441.4" y2="964.3" stroke-width="1.9" stroke="#0a0a0a"/>
<line x1="1422.5" y1="954.2" x2="1422.5" y2="974.3" stroke-width="1.9" stroke="#0a0a0a"/>
<line x1="1412.3" y1="954.2" x2="1432.7" y2="954.2" stroke-width="1.9" stroke="#0a0a0a"/>
<line x1="1412.3" y1="974.3" x2="1432.7" y2="974.3" stroke-width="1.9" stroke="#0a0a0a"/>
<circle cx="1431.2" cy="910.4" r="5.8" fill="#0a0a0a"/>
<circle cx="1414.0" cy="916.1" r="5.8" fill="#0a0a0a"/>
<circle cx="1417.5" cy="924.6" r="5.8" fill="#0a0a0a"/>
<circle cx="1426.9" cy="924.2" r="5.8" fill="#0a0a0a"/>
<circle cx="1432.9" cy="946.3" r="5.8" fill="#0a0a0a"/>
<circle cx="1406.7" cy="959.0" r="5.8" fill="#0a0a0a"/>
<circle cx="1422.2" cy="960.1" r="5.8" fill="#0a0a0a"/>
<circle cx="1411.8" cy="965.2" r="5.8" fill="#0a0a0a"/>
<circle cx="1432.6" cy="974.6" r="5.8" fill="#0a0a0a"/>
<circle cx="1422.2" cy="979.4" r="5.8" fill="#0a0a0a"/>
<circle cx="1413.7" cy="999.6" r="5.8" fill="#0a0a0a"/>
<circle cx="1439.7" cy="1006.8" r="5.8" fill="#0a0a0a"/>
<circle cx="1430.7" cy="1010.9" r="5.8" fill="#0a0a0a"/>
<circle cx="1414.0" cy="1026.0" r="5.8" fill="#0a0a0a"/>
<line x1="1460.3" y1="1010.3" x2="1498.3" y2="1010.3" stroke-width="1.9" stroke="#0a0a0a"/>
<circle cx="1479.2" cy="930.3" r="5.8" fill="none" stroke="#0a0a0a" stroke-width="1.9"/>
<circle cx="1479.2" cy="971.2" r="5.8" fill="none" stroke="#0a0a0a" stroke-width="1.9"/>
<circle cx="1468.8" cy="1000.5" r="5.8" fill="none" stroke="#0a0a0a" stroke-width="1.9"/>
<circle cx="1489.6" cy="1001.7" r="5.8" fill="none" stroke="#0a0a0a" stroke-width="1.9"/>
<circle cx="1474.3" cy="1008.8" r="5.8" fill="none" stroke="#0a0a0a" stroke-width="1.9"/>
<circle cx="1479.5" cy="1010.0" r="5.8" fill="none" stroke="#0a0a0a" stroke-width="1.9"/>
<circle cx="1485.2" cy="1008.9" r="5.8" fill="none" stroke="#0a0a0a" stroke-width="1.9"/>
<circle cx="1470.7" cy="1020.0" r="5.8" fill="none" stroke="#0a0a0a" stroke-width="1.9"/>
<circle cx="1487.7" cy="1027.1" r="5.8" fill="none" stroke="#0a0a0a" stroke-width="1.9"/>
<circle cx="1474.5" cy="1030.0" r="5.8" fill="none" stroke="#0a0a0a" stroke-width="1.9"/>
<circle cx="1483.9" cy="1035.1" r="5.8" fill="none" stroke="#0a0a0a" stroke-width="1.9"/>
<circle cx="1479.2" cy="1082.2" r="5.8" fill="none" stroke="#0a0a0a" stroke-width="1.9"/>
<path d="M1422.7,900.5 L1422.7,888.9 L1479.0,888.9 L1479.0,914.6" fill="none" stroke-width="1.95" stroke-linejoin="round" stroke="#0a0a0a"/>
<text transform="translate(1452.00 887.25) rotate(0.03)" font-size="21.6" font-weight="bold" text-anchor="middle" stroke="#0a0a0a" stroke-width="0.3">**</text>
<text transform="translate(1259.40 1201.20) rotate(0.03)" font-size="22" textLength="68.0" lengthAdjust="spacingAndGlyphs" stroke="#0a0a0a" stroke-width="0.3">Ex vivo</text>
<text transform="translate(1418.50 1201.20) rotate(0.03)" font-size="22" textLength="41.5" lengthAdjust="spacingAndGlyphs" stroke="#0a0a0a" stroke-width="0.3">OVA</text>
</g>
<g class="p4">
<line x1="1693.1" y1="866.9" x2="1693.1" y2="1152.4" stroke-width="2.0" stroke="#0a0a0a"/>
<line x1="1683.1" y1="1151.5" x2="2120.0" y2="1151.5" stroke-width="2.0" stroke="#0a0a0a"/>
<line x1="1683.1" y1="867.8" x2="1693.1" y2="867.8" stroke-width="1.9" stroke="#0a0a0a"/>
<text transform="translate(1681.60 875.35) rotate(0.03) scale(1 1.03)" font-size="21.6" font-weight="bold" text-anchor="end" stroke="#0a0a0a" stroke-width="0.6">15000</text>
<line x1="1683.1" y1="962.4" x2="1693.1" y2="962.4" stroke-width="1.9" stroke="#0a0a0a"/>
<text transform="translate(1681.60 969.92) rotate(0.03) scale(1 1.03)" font-size="21.6" font-weight="bold" text-anchor="end" stroke="#0a0a0a" stroke-width="0.6">0000</text>
<line x1="1683.1" y1="1056.9" x2="1693.1" y2="1056.9" stroke-width="1.9" stroke="#0a0a0a"/>
<text transform="translate(1681.60 1064.48) rotate(0.03) scale(1 1.03)" font-size="21.6" font-weight="bold" text-anchor="end" stroke="#0a0a0a" stroke-width="0.6">5000</text>
<text transform="translate(1623.40 1039.00) rotate(-90)" font-size="24.8" textLength="102.2" lengthAdjust="spacingAndGlyphs">CD71 MFI</text>
<line x1="1711.6" y1="1142.2" x2="1749.0" y2="1142.2" stroke-width="1.9" stroke="#0a0a0a"/>
<circle cx="1720.4" cy="1140.0" r="5.8" fill="#0a0a0a"/>
<circle cx="1724.9" cy="1142.3" r="5.8" fill="#0a0a0a"/>
<circle cx="1728.0" cy="1143.6" r="5.8" fill="#0a0a0a"/>
<circle cx="1730.6" cy="1144.0" r="5.8" fill="#0a0a0a"/>
<circle cx="1733.5" cy="1143.6" r="5.8" fill="#0a0a0a"/>
<circle cx="1736.2" cy="1142.8" r="5.8" fill="#0a0a0a"/>
<circle cx="1740.2" cy="1140.3" r="5.8" fill="#0a0a0a"/>
<line x1="1767.1" y1="1139.8" x2="1804.5" y2="1139.8" stroke-width="1.9" stroke="#0a0a0a"/>
<line x1="1785.8" y1="1137.4" x2="1785.8" y2="1141.7" stroke-width="1.9" stroke="#0a0a0a"/>
<line x1="1775.6" y1="1137.4" x2="1796.0" y2="1137.4" stroke-width="1.9" stroke="#0a0a0a"/>
<line x1="1775.6" y1="1141.7" x2="1796.0" y2="1141.7" stroke-width="1.9" stroke="#0a0a0a"/>
<circle cx="1794.2" cy="1127.0" r="5.8" fill="none" stroke="#0a0a0a" stroke-width="1.9"/>
<circle cx="1777.2" cy="1136.6" r="5.8" fill="none" stroke="#0a0a0a" stroke-width="1.9"/>
<circle cx="1775.8" cy="1144.0" r="5.8" fill="none" stroke="#0a0a0a" stroke-width="1.9"/>
<circle cx="1780.9" cy="1144.0" r="5.8" fill="none" stroke="#0a0a0a" stroke-width="1.9"/>
<circle cx="1786.0" cy="1144.0" r="5.8" fill="none" stroke="#0a0a0a" stroke-width="1.9"/>
<circle cx="1791.1" cy="1144.0" r="5.8" fill="none" stroke="#0a0a0a" stroke-width="1.9"/>
<circle cx="1795.6" cy="1142.3" r="5.8" fill="none" stroke="#0a0a0a" stroke-width="1.9"/>
<line x1="1859.4" y1="1075.9" x2="1896.8" y2="1075.9" stroke-width="1.9" stroke="#0a0a0a"/>
<line x1="1878.1" y1="1059.4" x2="1878.1" y2="1092.2" stroke-width="1.9" stroke="#0a0a0a"/>
<line x1="1867.9" y1="1059.4" x2="1888.3" y2="1059.4" stroke-width="1.9" stroke="#0a0a0a"/>
<line x1="1867.9" y1="1092.2" x2="1888.3" y2="1092.2" stroke-width="1.9" stroke="#0a0a0a"/>
<circle cx="1878.0" cy="1007.3" r="5.8" fill="#0a0a0a"/>
<circle cx="1878.0" cy="1050.1" r="5.8" fill="#0a0a0a"/>
<circle cx="1878.0" cy="1082.0" r="5.8" fill="#0a0a0a"/>
<circle cx="1868.0" cy="1101.7" r="5.8" fill="#0a0a0a"/>
<circle cx="1888.2" cy="1104.3" r="5.8" fill="#0a0a0a"/>
<circle cx="1878.0" cy="1110.0" r="5.8" fill="#0a0a0a"/>
<line x1="1915.1" y1="1130.9" x2="1952.1" y2="1130.9" stroke-width="1.9" stroke="#0a0a0a"/>
<line x1="1933.6" y1="1126.5" x2="1933.6" y2="1135.3" stroke-width="1.9" stroke="#0a0a0a"/>
<line x1="1923.4" y1="1126.5" x2="1943.8" y2="1126.5" stroke-width="1.9" stroke="#0a0a0a"/>
<line x1="1923.4" y1="1135.3" x2="1943.8" y2="1135.3" stroke-width="1.9" stroke="#0a0a0a"/>
<circle cx="1925.2" cy="1119.0" r="5.8" fill="none" stroke="#0a0a0a" stroke-width="1.9"/>
<circle cx="1950.7" cy="1120.9" r="5.8" fill="none" stroke="#0a0a0a" stroke-width="1.9"/>
<circle cx="1942.3" cy="1129.1" r="5.8" fill="none" stroke="#0a0a0a" stroke-width="1.9"/>
<circle cx="1924.7" cy="1137.4" r="5.8" fill="none" stroke="#0a0a0a" stroke-width="1.9"/>
<circle cx="1938.5" cy="1139.0" r="5.8" fill="none" stroke="#0a0a0a" stroke-width="1.9"/>
<circle cx="1929.2" cy="1140.9" r="5.8" fill="none" stroke="#0a0a0a" stroke-width="1.9"/>
<path d="M1878.5,984.7 L1878.5,960.2 L1933.8,960.2 L1933.8,1080.7" fill="none" stroke-width="1.95" stroke-linejoin="round" stroke="#0a0a0a"/>
<text transform="translate(1907.50 960.65) rotate(0.03)" font-size="21.6" font-weight="bold" text-anchor="middle" stroke="#0a0a0a" stroke-width="0.3">*</text>
<line x1="2007.5" y1="1051.5" x2="2044.7" y2="1051.5" stroke-width="1.9" stroke="#0a0a0a"/>
<line x1="2026.1" y1="1040.0" x2="2026.1" y2="1063.0" stroke-width="1.9" stroke="#0a0a0a"/>
<line x1="2015.9" y1="1040.0" x2="2036.3" y2="1040.0" stroke-width="1.9" stroke="#0a0a0a"/>
<line x1="2015.9" y1="1063.0" x2="2036.3" y2="1063.0" stroke-width="1.9" stroke="#0a0a0a"/>
<circle cx="2026.2" cy="955.1" r="5.8" fill="#0a0a0a"/>
<circle cx="2026.2" cy="976.5" r="5.8" fill="#0a0a0a"/>
<circle cx="2015.8" cy="1033.0" r="5.8" fill="#0a0a0a"/>
<circle cx="2026.0" cy="1034.3" r="5.8" fill="#0a0a0a"/>
<circle cx="2035.9" cy="1030.9" r="5.8" fill="#0a0a0a"/>
<circle cx="2017.2" cy="1058.1" r="5.8" fill="#0a0a0a"/>
<circle cx="2034.2" cy="1056.7" r="5.8" fill="#0a0a0a"/>
<circle cx="2035.9" cy="1061.5" r="5.8" fill="#0a0a0a"/>
<circle cx="2015.8" cy="1074.4" r="5.8" fill="#0a0a0a"/>
<circle cx="2025.8" cy="1075.4" r="5.8" fill="#0a0a0a"/>
<circle cx="2034.5" cy="1082.9" r="5.8" fill="#0a0a0a"/>
<circle cx="2017.4" cy="1087.3" r="5.8" fill="#0a0a0a"/>
<circle cx="2030.6" cy="1096.1" r="5.8" fill="#0a0a0a"/>
<circle cx="2021.1" cy="1098.0" r="5.8" fill="#0a0a0a"/>
<line x1="2063.0" y1="1101.6" x2="2099.8" y2="1101.6" stroke-width="1.9" stroke="#0a0a0a"/>
<line x1="2081.4" y1="1093.3" x2="2081.4" y2="1109.9" stroke-width="1.9" stroke="#0a0a0a"/>
<line x1="2071.2" y1="1093.3" x2="2091.6" y2="1093.3" stroke-width="1.9" stroke="#0a0a0a"/>
<line x1="2071.2" y1="1109.9" x2="2091.6" y2="1109.9" stroke-width="1.9" stroke="#0a0a0a"/>
<circle cx="2081.2" cy="1056.9" r="5.8" fill="none" stroke="#0a0a0a" stroke-width="1.9"/>
<circle cx="2071.2" cy="1071.0" r="5.8" fill="none" stroke="#0a0a0a" stroke-width="1.9"/>
<circle cx="2091.6" cy="1076.1" r="5.8" fill="none" stroke="#0a0a0a" stroke-width="1.9"/>
<circle cx="2081.1" cy="1080.0" r="5.8" fill="none" stroke="#0a0a0a" stroke-width="1.9"/>
<circle cx="2072.7" cy="1100.9" r="5.8" fill="none" stroke="#0a0a0a" stroke-width="1.9"/>
<circle cx="2089.7" cy="1101.9" r="5.8" fill="none" stroke="#0a0a0a" stroke-width="1.9"/>
<circle cx="2070.9" cy="1118.9" r="5.8" fill="none" stroke="#0a0a0a" stroke-width="1.9"/>
<circle cx="2091.9" cy="1121.3" r="5.8" fill="none" stroke="#0a0a0a" stroke-width="1.9"/>
<circle cx="2076.0" cy="1125.2" r="5.8" fill="none" stroke="#0a0a0a" stroke-width="1.9"/>
<circle cx="2086.6" cy="1130.8" r="5.8" fill="none" stroke="#0a0a0a" stroke-width="1.9"/>
<circle cx="2080.9" cy="1136.1" r="5.8" fill="none" stroke="#0a0a0a" stroke-width="1.9"/>
<path d="M2026.2,933.2 L2026.2,908.7 L2082.0,908.7 L2082.0,1025.2" fill="none" stroke-width="1.95" stroke-linejoin="round" stroke="#0a0a0a"/>
<text transform="translate(2055.20 906.75) rotate(0.03)" font-size="21.6" font-weight="bold" text-anchor="middle" stroke="#0a0a0a" stroke-width="0.3">**</text>
<text transform="translate(1734.70 1205.20) rotate(0.03)" font-size="22" textLength="35.0" lengthAdjust="spacingAndGlyphs" stroke="#0a0a0a" stroke-width="0.3">IL-7</text>
<text transform="translate(1845.80 1205.20) rotate(0.03)" font-size="22" textLength="105.0" lengthAdjust="spacingAndGlyphs" stroke="#0a0a0a" stroke-width="0.3">IL-7 + IL-12</text>
<text transform="translate(2015.50 1204.60) rotate(0.03)" font-size="22" textLength="42.0" lengthAdjust="spacingAndGlyphs" stroke="#0a0a0a" stroke-width="0.3">E1 +</text>
<text transform="translate(2015.50 1233.00) rotate(0.03)" font-size="22" textLength="105.0" lengthAdjust="spacingAndGlyphs" stroke="#0a0a0a" stroke-width="0.3">IL-7 + IL-12</text>
</g>
</g></svg></body></html>
